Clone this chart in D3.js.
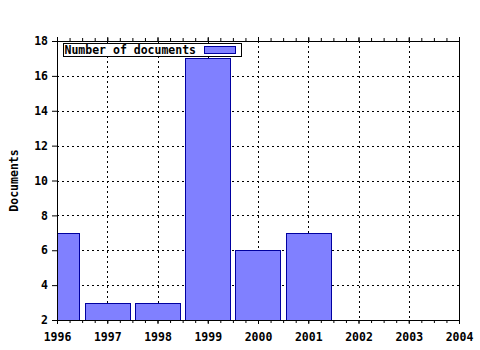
<!DOCTYPE html>
<html>
<head>
<meta charset="utf-8">
<script src="https://cdn.jsdelivr.net/npm/d3@7"></script>
<style>
  body { margin: 0; background: #fff; }
  text { font-family: "DejaVu Sans Mono", monospace; font-weight: bold; font-size: 11.5px; fill: #000; }
</style>
</head>
<body>
<div id="chart"></div>
<script>
// data
var years = [1996, 1997, 1998, 1999, 2000, 2001];
var docs = [7, 3, 3, 17, 6, 7];
var xTicks = [1996, 1997, 1998, 1999, 2000, 2001, 2002, 2003, 2004];
var yTicks = [2, 4, 6, 8, 10, 12, 14, 16, 18];
var seriesName = "Number of documents";
var yTitle = "Documents";

var W = 480, H = 350;
var margin = {top: 41, right: 21, bottom: 30, left: 57};
var w = W - margin.left - margin.right,
    h = H - margin.top - margin.bottom;

var svg = d3.select("#chart").append("svg")
  .attr("width", W).attr("height", H);

var x = d3.scaleLinear().domain([1996, 2004]).range([0, w]);
var y = d3.scaleLinear().domain([2, 18]).range([h, 0]);

var g = svg.append("g")
  .attr("transform", "translate(" + margin.left + "," + margin.top + ")");

svg.append("defs").append("clipPath").attr("id", "plot")
  .append("rect").attr("width", w).attr("height", h);

//grid
g.selectAll(".gx").data(xTicks.slice(1, -1)).enter().append("line")
  .attr("x1", d => Math.round(x(d)) + 0.5).attr("x2", d => Math.round(x(d)) + 0.5)
  .attr("y1", 0).attr("y2", h)
  .attr("stroke", "#000").attr("stroke-dasharray", "2,3");
g.selectAll(".gy").data(yTicks.slice(1, -1)).enter().append("line")
  .attr("y1", d => Math.round(y(d)) + 0.5).attr("y2", d => Math.round(y(d)) + 0.5)
  .attr("x1", 0).attr("x2", w)
  .attr("stroke", "#000").attr("stroke-dasharray", "2,3");

//bars
var bw = 0.9;
g.append("g").attr("clip-path", "url(#plot)")
  .selectAll("rect").data(years).enter().append("rect")
  .attr("x", (d) => Math.round(x(d - bw / 2)) + 0.5)
  .attr("width", Math.round(x(1996 + bw) - x(1996)))
  .attr("y", (d, i) => Math.round(y(docs[i])) + 0.5)
  .attr("height", (d, i) => Math.round(y(2) - y(docs[i])))
  .attr("fill", "#8080ff")
  .attr("stroke", "#0000a0");

//axes
var minor = d3.range(1996, 2004.01, 0.25);

var axB = g.append("g").attr("transform", "translate(0," + h + ")");
axB.append("g").call(d3.axisBottom(x).tickValues(minor).tickSize(3).tickFormat(""));
axB.append("g").call(d3.axisBottom(x).tickValues(xTicks).tickSize(4).tickPadding(9).tickFormat(d3.format("d")));
var axT = g.append("g");
axT.append("g").call(d3.axisTop(x).tickValues(minor).tickSize(3).tickFormat(""));
axT.append("g").call(d3.axisTop(x).tickValues(xTicks).tickSize(4).tickFormat(""));

g.append("g").call(d3.axisLeft(y).tickValues(yTicks).tickSize(5).tickPadding(4));

g.selectAll(".domain").remove();
g.selectAll(".tick line").attr("stroke", "#000");
svg.selectAll("g[font-family]").attr("font-family", null).attr("font-size", null);

//frame
g.append("rect").attr("x", 0.5).attr("y", 0.5).attr("width", w).attr("height", h)
  .attr("fill", "none").attr("stroke", "#000");

//y title
svg.append("text")
  .attr("transform", "translate(18," + (margin.top + h / 2) + ") rotate(-90)")
  .attr("text-anchor", "middle")
  .text(yTitle);

//legend
var leg = svg.append("g").attr("transform", "translate(63.5,43.5)");
leg.append("rect").attr("width", 178).attr("height", 13)
  .attr("fill", "#fff").attr("stroke", "#000");
leg.append("text").attr("x", 1).attr("y", 10.5).text(seriesName);
leg.append("rect").attr("x", 141).attr("y", 3).attr("width", 31).attr("height", 7)
  .attr("fill", "#8080ff").attr("stroke", "#0000a0");
</script>
</body>
</html>
